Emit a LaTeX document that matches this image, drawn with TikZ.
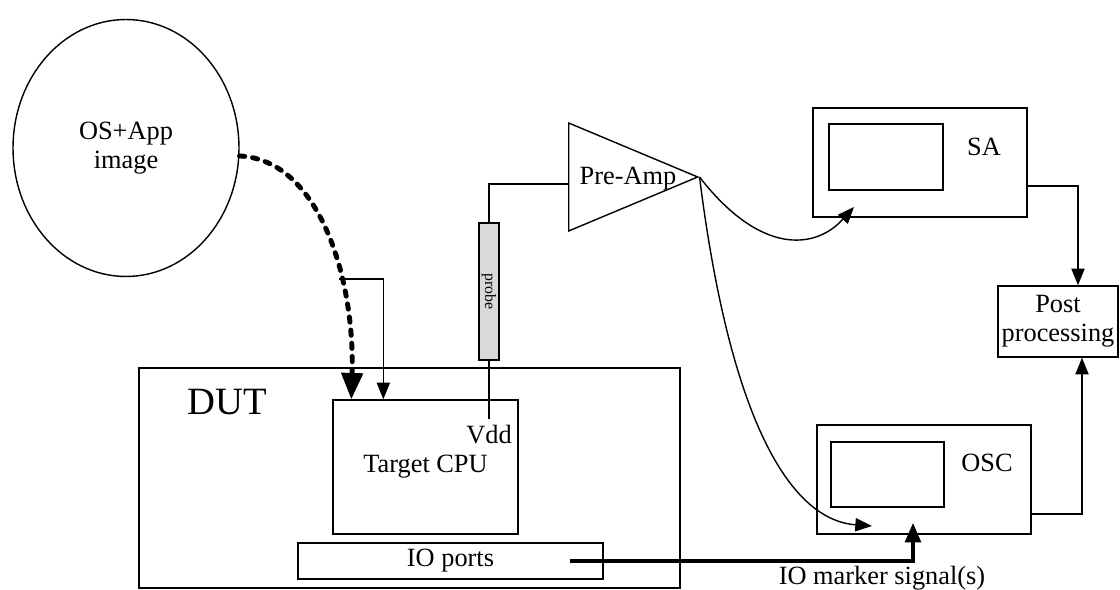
\documentclass[tikz,border=0pt]{standalone}
\usepackage{fontspec}
\setmainfont{Liberation Serif}
\usetikzlibrary{arrows.meta, shapes.geometric, calc}

\begin{document}
\begin{tikzpicture}[
    x=0.02cm, y=-0.02cm,
    font=\fontsize{15}{16.5}\selectfont,
    line width=0.8pt,
    box/.style={draw, rectangle, inner sep=0pt, align=center},
    arrow/.style={-{Triangle[length=9.5pt,width=7.5pt]}, line width=0.8pt},
    bus/.style={-{Triangle[length=11pt,width=9pt]}, line width=1.8pt},
    loadarrow/.style={-{Triangle[length=15pt,width=12pt]}, line width=2.8pt,
                      line cap=round, dash pattern=on 3pt off 4.5pt}
  ]
  \useasboundingbox (0,0) rectangle (1120,590);

  % software image
  \node[draw, ellipse, minimum width=4.52cm, minimum height=5.14cm,
        inner sep=0pt, align=center] (osimg) at (126,148) {OS+App\\image};

  % device under test
  \node[box, minimum width=10.82cm, minimum height=4.4cm] (dut) at (409.5,478) {};
  \node[font=\fontsize{22}{22}\selectfont] (dutlbl) at (227,402) {DUT};
  \node[box, minimum width=3.7cm, minimum height=2.68cm] (cpu) at (425.5,467) {Target CPU};
  \node (vdd) at (489,435) {Vdd};
  \node[box, minimum width=6.1cm, minimum height=0.72cm] (io) at (450.5,561) {IO ports};

  % probe and amplifier
  \node[box, fill=black!15, minimum width=0.4cm, minimum height=2.74cm] (probe) at (489,291.5)
    {\rotatebox{-90}{\fontsize{9}{9}\selectfont probe}};
  \node[draw, isosceles triangle, isosceles triangle stretches, minimum width=2.16cm,
        minimum height=2.58cm, inner sep=0pt, anchor=lower side] (amp) at (568,177) {};
  \node (amplbl) at (628,179) {Pre-Amp};

  % instruments
  \node[box, minimum width=4.28cm, minimum height=2.18cm] (sa) at (920,162.5) {};
  \node[box, minimum width=2.28cm, minimum height=1.32cm] (sascr) at (886,157) {};
  \node (salbl) at (984,147) {SA};
  \node[box, minimum width=4.28cm, minimum height=2.18cm] (osc) at (924,479.5) {};
  \node[box, minimum width=2.26cm, minimum height=1.3cm] (oscscr) at (887.5,474.5) {};
  \node (osclbl) at (987,463) {OSC};
  \node[box, minimum width=2.4cm, minimum height=1.42cm] (post) at (1058,321.5) {Post\\processing};
  \node (iolbl) at (882,578) {IO marker signal(s)};

  \coordinate (split) at (339,279);
  \coordinate (ioout) at (570,561);
  \coordinate (sain) at (854,207);
  \coordinate (oscin) at (872,526);
  \coordinate (iomark) at (913,523);

  % connections
  \draw[loadarrow] (osimg.-4) .. controls (320,160) and (355,280) .. ($(cpu.north west)+(19,0)$);
  \draw[arrow] (split) -| ($(cpu.north west)+(51,0)$);
  \draw (probe.south) -- (probe.south |- vdd.north);
  \draw (probe.north) |- ($(amp.lower side)+(0,7)$);
  \draw[arrow] (amp.apex) .. controls (760,255) and (815,250) .. (sain);
  \draw[arrow] (amp.apex) .. controls (730,420) and (790,520) .. (oscin);
  \draw[bus] (ioout) -| (iomark);
  \draw[arrow] ($(sa.east)+(0,23.5)$) -| ($(post.north)+(20,0)$);
  \draw[arrow] ($(osc.east)+(0,34.5)$) -| ($(post.south)+(24,0)$);
\end{tikzpicture}
\end{document}
